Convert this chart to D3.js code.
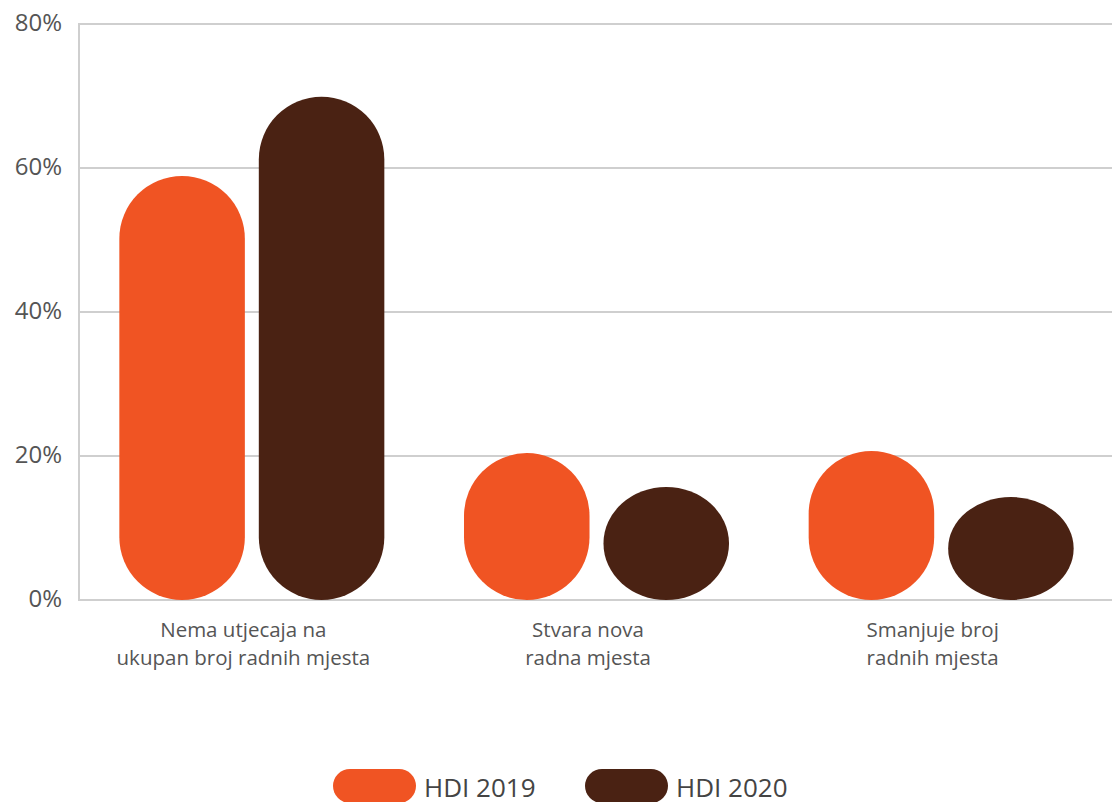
<!DOCTYPE html>
<html lang="hr">
<head>
  <meta charset="utf-8">
  <title>HDI 2019 / 2020</title>
  <script src="https://d3js.org/d3.v7.min.js"></script>
  <style>
    body { margin: 0; background: #fff; }
    text { font-family: "Open Sans", "Noto Sans", sans-serif; fill: #555; }
    .ytick { font-size: 24px; }
    .cat { font-size: 20.5px; }
    .leg { font-size: 26px; fill: #444; }
  </style>
</head>
<body>
  <svg width="1112" height="802"></svg>
  <script>
    var categories = [
      ["Nema utjecaja na", "ukupan broj radnih mjesta"],
      ["Stvara nova", "radna mjesta"],
      ["Smanjuje broj", "radnih mjesta"]
    ];
    var series = ["HDI 2019", "HDI 2020"];
    var hdi2019 = [58.9, 20.4, 20.7];
    var hdi2020 = [69.9, 15.7, 14.3];
    var yTicks = [0, 20, 40, 60, 80];
    var colors = ["#f05423", "#4a2213"];

    var svg = d3.select("svg"),
      mLeft = 78, mRight = 1112, mTop = 24, mBottom = 600;

    var y = d3.scaleLinear().domain([0, 80]).range([mBottom, mTop]);
    var x0 = d3.scaleBand().domain(d3.range(categories.length)).range([mLeft, mRight]);
    var x1 = d3.scaleBand().domain(series).range([0, 265]).paddingInner(0.1);
    var color = d3.scaleOrdinal().domain(series).range(colors);

    // mreža
    svg.append("g").selectAll("line")
      .data(yTicks)
      .join("line")
        .attr("x1", mLeft).attr("x2", mRight)
        .attr("y1", d => y(d)).attr("y2", d => y(d))
        .attr("stroke", "#cfcfcf").attr("stroke-width", 2);
    svg.append("line")
      .attr("x1", mLeft + 1).attr("x2", mLeft + 1)
      .attr("y1", y(80)).attr("y2", y(0))
      .attr("stroke", "#cfcfcf").attr("stroke-width", 2);

    svg.append("g").selectAll("text")
      .data(yTicks)
      .join("text")
        .attr("class", "ytick")
        .attr("x", 62).attr("y", d => y(d))
        .attr("dy", "0.3em")
        .attr("text-anchor", "end")
        .text(d => d + "%");

    // stupci
    var data = categories.map((c, i) => ({ i: i, values: [hdi2019[i], hdi2020[i]] }));
    var groups = svg.append("g").selectAll("g")
      .data(data)
      .join("g")
        .attr("transform", d => "translate(" + (x0(d.i) + x0.bandwidth() / 2 - 131) + ",0)");
    groups.selectAll("rect")
      .data(d => d.values.map((v, j) => ({ key: series[j], value: v })))
      .join("rect")
        .attr("x", d => x1(d.key))
        .attr("y", d => y(d.value))
        .attr("width", x1.bandwidth())
        .attr("height", d => y(0) - y(d.value))
        .attr("rx", x1.bandwidth() / 2)
        .attr("fill", d => color(d.key));

    // oznake kategorija
    svg.append("g").selectAll("text")
      .data(categories)
      .join("text")
        .attr("class", "cat")
        .attr("text-anchor", "middle")
        .attr("transform", (d, i) => "translate(" + (x0(i) + x0.bandwidth() / 2 - 7) + ",637)")
        .selectAll("tspan")
        .data(d => d)
        .join("tspan")
          .attr("x", 0)
          .attr("dy", (d, i) => i ? 28 : 0)
          .text(d => d);

    // legenda
    var legX = [333, 585];
    var leg = svg.append("g").selectAll("g")
      .data(series)
      .join("g")
        .attr("transform", (d, i) => "translate(" + legX[i] + ",769)");
    leg.append("rect")
      .attr("width", 83).attr("height", 34).attr("rx", 17)
      .attr("fill", d => color(d));
    leg.append("text")
      .attr("class", "leg")
      .attr("x", 91).attr("y", 28)
      .text(d => d);
  </script>
</body>
</html>
